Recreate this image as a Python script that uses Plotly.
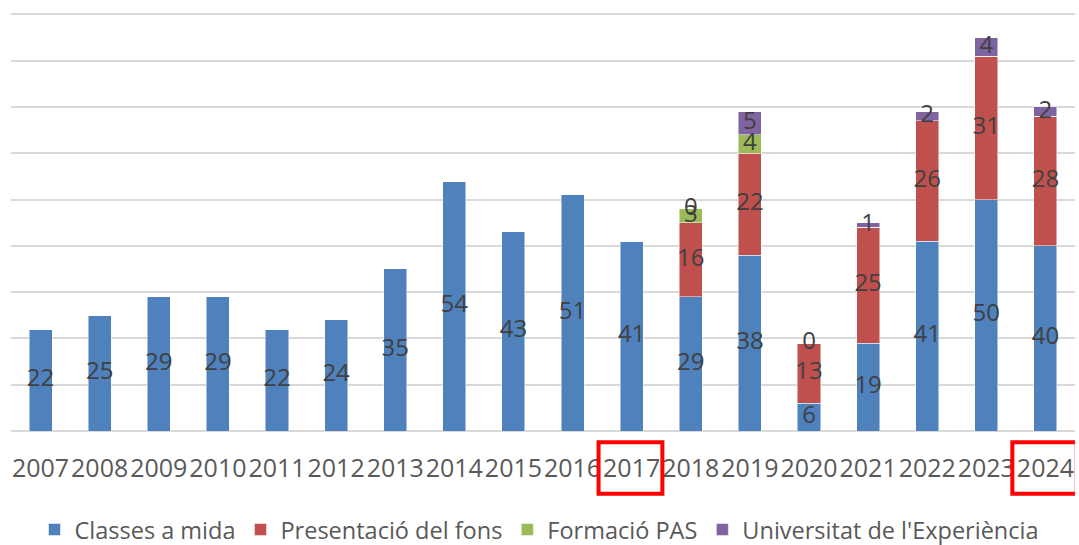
import plotly.graph_objects as go

years = ["2007", "2008", "2009", "2010", "2011", "2012", "2013", "2014", "2015",
         "2016", "2017", "2018", "2019", "2020", "2021", "2022", "2023", "2024"]
classes_a_mida = [22, 25, 29, 29, 22, 24, 35, 54, 43, 51, 41, 29, 38, 6, 19, 41, 50, 40]
presentacio_fons = [None, None, None, None, None, None, None, None, None, None, None, 16, 22, 13, 25, 26, 31, 28]
formacio_pas = [None, None, None, None, None, None, None, None, None, None, None, 3, 4, None, None, None, None, None]
universitat_exp = [None, None, None, None, None, None, None, None, None, None, None, 0, 5, 0, 1, 2, 4, 2]

series = [
    ("Classes a mida", classes_a_mida, "#4F81BD"),
    ("Presentació del fons", presentacio_fons, "#C0504D"),
    ("Formació PAS", formacio_pas, "#9BBB59"),
    ("Universitat de l'Experiència", universitat_exp, "#8064A2"),
]
highlighted = ["2017", "2024"]

FONT = "Open Sans"
fig = go.Figure()

for name, vals, color in series:
    fig.add_trace(go.Bar(
        x=years, y=[v if v is not None else 0 for v in vals], name=name,
        marker=dict(color=color, line=dict(color="rgba(255,255,255,0.6)", width=0.8)),
        hoverinfo="skip",
    ))

# data labels centred in each segment
base = [0] * len(years)
lx, ly, lt = [], [], []
for name, vals, color in series:
    for i, v in enumerate(vals):
        if v is None:
            continue
        lx.append(years[i])
        ly.append(base[i] + v / 2)
        lt.append(str(v))
        base[i] += v
fig.add_trace(go.Scatter(
    x=lx, y=ly, text=lt, mode="text", showlegend=False, hoverinfo="skip",
    textfont=dict(family=FONT, size=24, color="#404040"), textposition="middle center",
    cliponaxis=False,
))

# red highlight boxes around some year labels
for yr in highlighted:
    idx = years.index(yr)
    x1 = idx + 0.52 if idx < len(years) - 1 else idx + 0.53
    fig.add_shape(type="rect", xref="x", yref="paper",
                  x0=idx - 0.56, x1=x1, y0=-0.027, y1=-0.15,
                  line=dict(color="#FF0000", width=4), fillcolor="rgba(0,0,0,0)")

fig.update_layout(
    width=1079, height=545,
    barmode="stack", bargap=0.61,
    plot_bgcolor="white", paper_bgcolor="white",
    margin=dict(l=11, r=4, t=13, b=114, autoexpand=False),
    font=dict(family=FONT, color="#595959"),
    showlegend=True,
    legend=dict(orientation="h", x=0.5, xanchor="center", xref="container",
                y=0.028, yanchor="middle", yref="container",
                font=dict(family=FONT, size=23.5, color="#595959"), traceorder="normal",
                itemclick=False),
)
fig.update_xaxes(
    range=[-0.5, len(years) - 0.5],
    showgrid=False, showline=False, zeroline=False, automargin=False,
    ticks="outside", ticklen=15, tickcolor="rgba(0,0,0,0)", tickangle=0,
    tickfont=dict(family=FONT, size=25, color="#595959"),
)
fig.update_yaxes(
    range=[0, 90.3], tick0=0, dtick=10, showticklabels=False, automargin=False,
    showgrid=True, gridcolor="#D9D9D9", gridwidth=2,
    zeroline=True, zerolinecolor="#D9D9D9", zerolinewidth=2, showline=False,
)

fig.write_html("out.html", config={"displayModeBar": False},
               post_script="document.body.style.margin='0';document.body.style.overflow='hidden';")
